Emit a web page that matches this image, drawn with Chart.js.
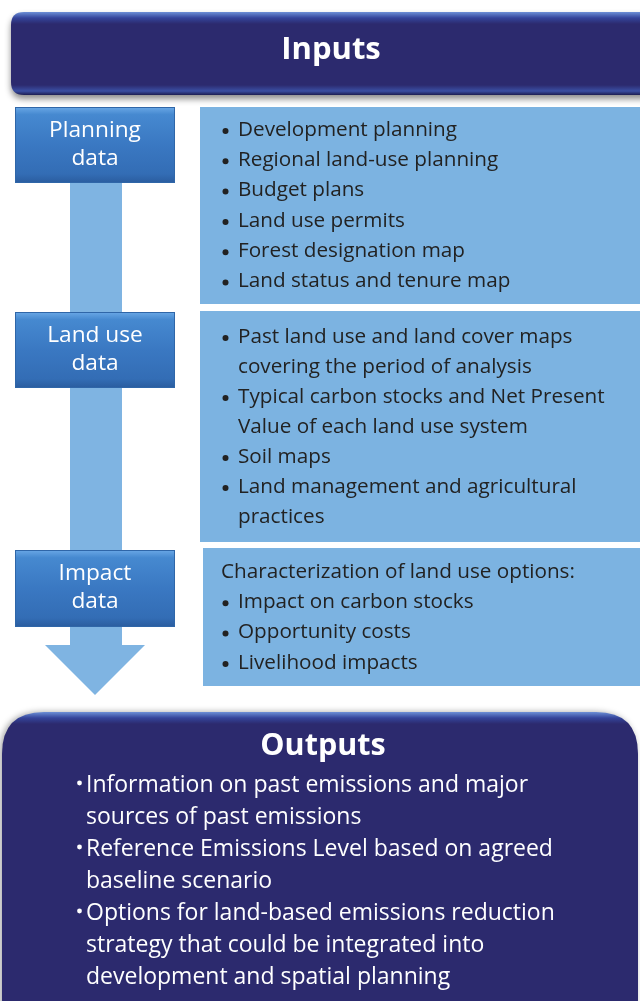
<!DOCTYPE html>
<html>
<head>
<meta charset="utf-8">
<script src="https://cdn.jsdelivr.net/npm/chart.js@4"></script>
<style>
  html, body { margin: 0; padding: 0; background: #fff; }
  canvas { display: block; }
</style>
</head>
<body>
<canvas id="diagram" width="640" height="1001"></canvas>
<script>
// texts of the diagram
const inputsTitle = "Inputs";
const outputsTitle = "Outputs";
const stageLabels = [["Planning", "data"], ["Land use", "data"], ["Impact", "data"]];
const planningItems = [
  ["Development planning"],
  ["Regional land-use planning"],
  ["Budget plans"],
  ["Land use permits"],
  ["Forest designation map"],
  ["Land status and tenure map"],
];
const landUseItems = [
  ["Past land use and land cover maps", "covering the period of analysis"],
  ["Typical carbon stocks and Net Present", "Value of each land use system"],
  ["Soil maps"],
  ["Land management and agricultural", "practices"],
];
const impactIntro = "Characterization of land use options:";
const impactItems = [
  ["Impact on carbon stocks"],
  ["Opportunity costs"],
  ["Livelihood impacts"],
];
const outputItems = [
  ["Information on past emissions and major", "sources of past emissions"],
  ["Reference Emissions Level based on agreed", "baseline scenario"],
  ["Options for land-based emissions reduction", "strategy that could be integrated into", "development and spatial planning"],
];

// layout (diagram units = pixels of the 640 x 1001 page)
const stageBoxes = [
  { x0: 15, x1: 175, y0: 107, y1: 183 },
  { x0: 15, x1: 175, y0: 312, y1: 388 },
  { x0: 15, x1: 175, y0: 550, y1: 627 },
];
const detailBoxes = [
  { x0: 200, x1: 640, y0: 107, y1: 304, firstLine: 130 },
  { x0: 200, x1: 640, y0: 311, y1: 542, firstLine: 337 },
  { x0: 203, x1: 640, y0: 548, y1: 686, firstLine: 572 },
];

const FONT = "'Open Sans', Lato, sans-serif";

function roundRect(ctx, x, y, w, h, r) {
  ctx.beginPath();
  ctx.moveTo(x + r, y);
  ctx.lineTo(x + w - r, y);
  ctx.quadraticCurveTo(x + w, y, x + w, y + r);
  ctx.lineTo(x + w, y + h - r);
  ctx.quadraticCurveTo(x + w, y + h, x + w - r, y + h);
  ctx.lineTo(x + r, y + h);
  ctx.quadraticCurveTo(x, y + h, x, y + h - r);
  ctx.lineTo(x, y + r);
  ctx.quadraticCurveTo(x, y, x + r, y);
  ctx.closePath();
}

function navyFill(ctx, top, bottom) {
  const g = ctx.createLinearGradient(0, top, 0, bottom);
  const h = bottom - top;
  g.addColorStop(0, "#6c8fd6");
  g.addColorStop(Math.min(0.5, 6 / h), "#34449a");
  g.addColorStop(Math.min(0.5, 12 / h), "#2c2a6e");
  g.addColorStop(1 - Math.min(0.5, 10 / h), "#2c2a6e");
  g.addColorStop(1 - Math.min(0.5, 4 / h), "#3a4ea2");
  g.addColorStop(1, "#1d1d52");
  return g;
}

function dot(ctx, x, y, r) {
  ctx.beginPath();
  ctx.arc(x, y, r, 0, Math.PI * 2);
  ctx.fill();
}

const diagramPlugin = {
  id: "diagram",
  beforeDatasetsDraw(chart) {
    const ctx = chart.ctx;
    const sx = chart.scales.x, sy = chart.scales.y;
    const px = v => sx.getPixelForValue(v);
    const py = v => sy.getPixelForValue(v);

    ctx.save();

    // Inputs header
    ctx.save();
    ctx.shadowColor = "rgba(0,0,0,0.45)";
    ctx.shadowBlur = 6;
    ctx.shadowOffsetY = 4;
    roundRect(ctx, px(11), py(12), px(660) - px(11), py(95) - py(12), 13);
    ctx.fillStyle = navyFill(ctx, py(12), py(95));
    ctx.fill();
    ctx.restore();
    ctx.fillStyle = "#ffffff";
    ctx.font = "bold 31px " + FONT;
    ctx.textAlign = "center";
    ctx.textBaseline = "middle";
    ctx.fillText(inputsTitle, px(331), py(50));

    // arrow shaft and head
    ctx.fillStyle = "#7fb4e2";
    ctx.fillRect(px(70), py(183), px(122) - px(70), py(646) - py(183));
    ctx.beginPath();
    ctx.moveTo(px(45), py(645));
    ctx.lineTo(px(145), py(645));
    ctx.lineTo(px(95), py(695));
    ctx.closePath();
    ctx.fill();

    // detail boxes
    ctx.textAlign = "left";
    ctx.font = "20.7px " + FONT;
    const groups = [planningItems, landUseItems, impactItems];
    detailBoxes.forEach((b, i) => {
      ctx.fillStyle = "#7cb3e1";
      ctx.fillRect(px(b.x0), py(b.y0), px(b.x1) - px(b.x0), py(b.y1) - py(b.y0));
      ctx.fillStyle = "#222222";
      let y = b.firstLine;
      const step = i === 1 ? 30 : 30.3;
      if (i === 2) {
        ctx.fillText(impactIntro, px(221), py(y));
        y += step;
      }
      groups[i].forEach(item => {
        dot(ctx, px(225.5), py(y + 1), 3);
        item.forEach(line => {
          ctx.fillText(line, px(238), py(y));
          y += step;
        });
      });
    });

    // stage boxes
    stageBoxes.forEach((b, i) => {
      const x = px(b.x0), y = py(b.y0), w = px(b.x1) - x, h = py(b.y1) - y;
      const g = ctx.createLinearGradient(0, y, 0, y + h);
      g.addColorStop(0, "#6aa8e6");
      g.addColorStop(0.1, "#4689d0");
      g.addColorStop(0.5, "#3a78c2");
      g.addColorStop(0.88, "#336db5");
      g.addColorStop(1, "#2a5c9e");
      ctx.fillStyle = g;
      ctx.fillRect(x, y, w, h);
      ctx.strokeStyle = "#2f66a8";
      ctx.lineWidth = 1;
      ctx.strokeRect(x + 0.5, y + 0.5, w - 1, h - 1);
      ctx.fillStyle = "#ffffff";
      ctx.font = "22.7px " + FONT;
      ctx.textAlign = "center";
      ctx.fillText(stageLabels[i][0], px(95), py(b.y0 + 24));
      ctx.fillText(stageLabels[i][1], px(95), py(b.y0 + 52));
      ctx.textAlign = "left";
    });

    // Outputs box
    ctx.save();
    ctx.shadowColor = "rgba(0,0,0,0.35)";
    ctx.shadowBlur = 6;
    ctx.shadowOffsetX = -2;
    roundRect(ctx, px(2), py(712), px(638) - px(2), py(1040) - py(712), 42);
    ctx.fillStyle = navyFill(ctx, py(712), py(1040));
    ctx.fill();
    ctx.restore();
    ctx.fillStyle = "#ffffff";
    ctx.font = "bold 30.5px " + FONT;
    ctx.textAlign = "center";
    ctx.fillText(outputsTitle, px(323), py(746));
    ctx.textAlign = "left";
    ctx.font = "23px " + FONT;
    let y = 785;
    outputItems.forEach(item => {
      dot(ctx, px(79.5), py(y - 2), 2.4);
      item.forEach(line => {
        ctx.fillText(line, px(86), py(y));
        y += 32;
      });
    });

    ctx.restore();
  }
};

new Chart(document.getElementById("diagram"), {
  type: "scatter",
  data: { datasets: [{ data: [] }] },
  options: {
    responsive: false,
    animation: false,
    events: [],
    layout: { padding: 0 },
    scales: {
      x: { type: "linear", min: 0, max: 640, display: false },
      y: { type: "linear", min: 0, max: 1001, reverse: true, display: false },
    },
    plugins: { legend: { display: false }, tooltip: { enabled: false } },
  },
  plugins: [diagramPlugin],
});
</script>
</body>
</html>
